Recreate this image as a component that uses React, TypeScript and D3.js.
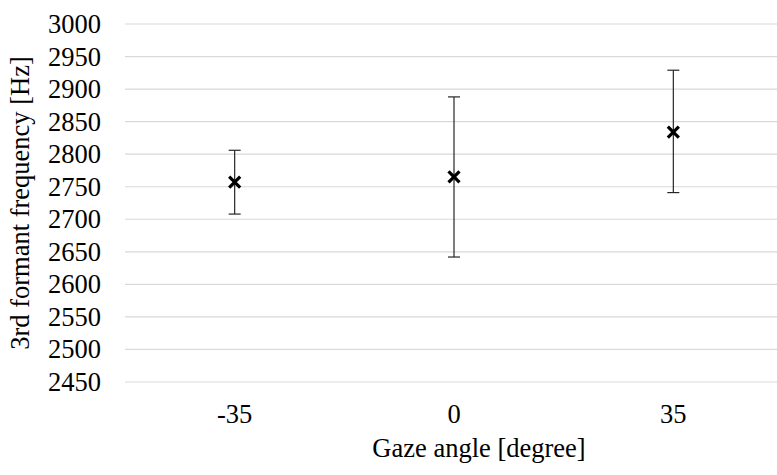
import React from 'react';
import * as d3 from 'd3';

const categories = ['-35', '0', '35'];
const means = [2757, 2765, 2834];
const upper = [2806, 2888, 2929];
const lower = [2708, 2642, 2741];
const yTicks = [2450, 2500, 2550, 2600, 2650, 2700, 2750, 2800, 2850, 2900, 2950, 3000];

const width = 777;
const height = 475;
const font = 'Liberation Serif';
const fontSize = 26.5;

export default function App() {
  const margin = { top: 24, right: -6, bottom: 93, left: 125 };

  const x = d3.scaleBand()
    .domain(categories)
    .range([margin.left, width - margin.right]);

  const y = d3.scaleLinear()
    .domain([2450, 3000])
    .range([height - margin.bottom, margin.top]);

  const cx = (c: string) => x(c)! + x.bandwidth() / 2;
  const s = 5.5; // marker half size

  return (
    <svg width={width} height={height}
      style={{ position: 'absolute', left: 0, top: 0, background: '#fff' }}
      fontFamily={font} fontSize={fontSize}>
      {/* grid */}
      {yTicks.map(t => (
        <line key={t} x1={margin.left} x2={width - margin.right} y1={y(t)} y2={y(t)}
          stroke="#d9d9d9" strokeWidth={1.2} />
      ))}
      {/* y tick labels */}
      {yTicks.map(t => (
        <text key={'l' + t} x={101} y={y(t)} dy="0.34em" textAnchor="end" fill="#000">{t}</text>
      ))}
      {/* x tick labels */}
      {categories.map(c => (
        <text key={'x' + c} x={cx(c)} y={423} textAnchor="middle" fill="#000">{c}</text>
      ))}
      <text x={479} y={457} textAnchor="middle" fill="#000">Gaze angle [degree]</text>
      <text transform={`translate(29,${(margin.top + height - margin.bottom) / 2}) rotate(-90)`}
        textAnchor="middle" fill="#000">3rd formant frequency [Hz]</text>
      {/* error bars */}
      <g stroke="#262626" strokeWidth={1.2}>
        {categories.map((c, i) => (
          <g key={'e' + c}>
            <line x1={cx(c)} x2={cx(c)} y1={y(upper[i])} y2={y(lower[i])} />
            <line x1={cx(c) - 6} x2={cx(c) + 6} y1={y(upper[i])} y2={y(upper[i])} />
            <line x1={cx(c) - 6} x2={cx(c) + 6} y1={y(lower[i])} y2={y(lower[i])} />
          </g>
        ))}
      </g>
      {/* markers */}
      {categories.map((c, i) => {
        const px = cx(c), py = y(means[i]);
        return (
          <path key={'m' + c}
            d={`M${px - s},${py - s}L${px + s},${py + s}M${px - s},${py + s}L${px + s},${py - s}`}
            stroke="#000" strokeWidth={3.2} fill="none" />
        );
      })}
    </svg>
  );
}
